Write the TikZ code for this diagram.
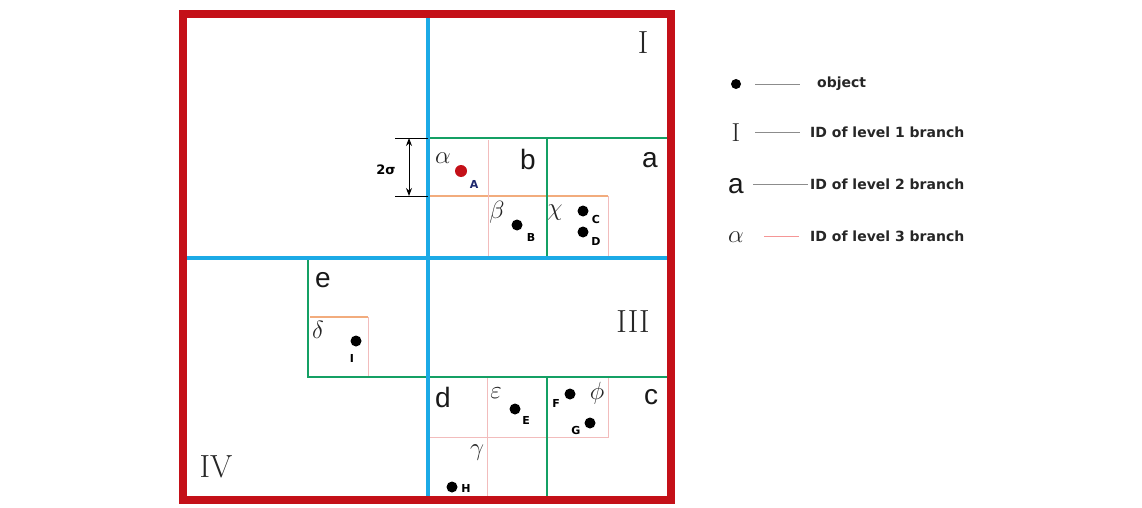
\documentclass[tikz,border=0pt]{standalone}
\usepackage{fontspec}
\newfontfamily\dvs{DejaVu Sans}
\newfontfamily\lsans{Liberation Sans}
\usetikzlibrary{arrows.meta}
\definecolor{qred}{RGB}{196,16,24}
\definecolor{qblue}{RGB}{28,170,230}
\definecolor{qgreen}{RGB}{20,160,100}
\definecolor{qorange}{RGB}{242,172,125}
\definecolor{qpink}{RGB}{242,188,188}
\definecolor{qnavy}{RGB}{30,40,110}
\begin{document}
\begin{tikzpicture}[x=1pt,y=-1pt,
 lvlzero/.style={draw=qred,line width=8pt},
 lvlone/.style={draw=qblue,line width=4.5pt},
 lvltwo/.style={draw=qgreen,line width=2.2pt},
 lvlthree/.style={draw=qorange,line width=1.3pt},
 lvlthreep/.style={draw=qpink,line width=1pt},
 roman/.style={inner sep=0pt,text=black!85,font=\fontsize{32}{36}\selectfont},
 sans/.style={inner sep=0pt,text=black!90,font=\lsans\fontsize{28}{32}\selectfont},
 greek/.style={inner sep=0pt,text=black!85,font=\fontsize{23}{27}\selectfont},
 obj/.style={circle,fill=black,inner sep=0pt,minimum size=11pt},
 objlab/.style={inner sep=0pt,font=\dvs\bfseries\fontsize{11}{13}\selectfont},
 legtext/.style={inner sep=0pt,anchor=west,text=black!85,font=\dvs\bfseries\fontsize{14}{16}\selectfont},
 legline/.style={draw=black!45,line width=0.6pt},
]
\useasboundingbox (0,0) rectangle (1142,508);
\fill[white] (0,0) rectangle (1142,508);

% level 3 boxes
\draw[lvlthree] (430,196) -- (608,196);
\draw[lvlthreep] (608,196) -- (608,256);
\draw[lvlthreep] (488,140) -- (488,256);
\draw[lvlthree] (310,317) -- (368,317);
\draw[lvlthreep] (368,317) -- (368,376);
\draw[lvlthreep] (487,378) -- (487,497);
\draw[lvlthreep] (430,437) -- (608,437) -- (608,378);

% level 2 boxes
\draw[lvltwo] (430,138) -- (667,138);
\draw[lvltwo] (547,138) -- (547,258);
\draw[lvltwo] (308,258) -- (308,377) -- (667,377);
\draw[lvltwo] (547,377) -- (547,498);

% level 1
\draw[lvlone] (428,14) -- (428,500);
\draw[lvlone] (183,258) -- (671,258);

% level 0
\draw[lvlzero] (183,14) rectangle (671,500);

% level 1 ids
\node[roman] (tI) at (643,43) {I};
\node[roman] (tIII) at (633,322) {III};
\node[roman] (tIV) at (216,467) {IV};

% level 2 ids
\node[sans] (tb) at (528,159) {b};
\node[sans] (ta) at (650,160) {a};
\node[sans] (te) at (323,280) {e};
\node[sans] (td) at (443,397) {d};
\node[sans] (tc) at (651,397) {c};

% level 3 ids
\node[greek] (galpha) at (443,158) {$\alpha$};
\node[greek] (gbeta) at (497,212) {$\beta$};
\node[greek] (gchi) at (555,213) {$\chi$};
\node[greek] (gdelta) at (318,330) {$\delta$};
\node[greek] (geps) at (496,393) {$\varepsilon$};
\node[greek] (gphi) at (597,393) {$\phi$};
\node[greek] (ggamma) at (477,453) {$\gamma$};

% objects
\node[obj,fill=qred,minimum size=12pt] (oA) at (461,171) {};
\node[obj] (oB) at (517,225) {};
\node[obj] (oC) at (583,211) {};
\node[obj] (oD) at (583,232) {};
\node[obj] (oI) at (356,341) {};
\node[obj] (oE) at (515,409) {};
\node[obj] (oF) at (570,394) {};
\node[obj] (oG) at (590,423) {};
\node[obj] (oH) at (452,487) {};
\node[objlab,text=qnavy] (lA) at (474,184) {A};
\node[objlab] (lB) at (531,237) {B};
\node[objlab] (lC) at (596,219) {C};
\node[objlab] (lD) at (596,241) {D};
\node[objlab] (lI) at (352,358) {I};
\node[objlab] (lE) at (526,420) {E};
\node[objlab] (lF) at (556,403) {F};
\node[objlab] (lG) at (576,430) {G};
\node[objlab] (lH) at (466,488) {H};

% 2 sigma
\coordinate (s1) at (409,138);
\coordinate (s2) at (409,196);
\draw[black,line width=0.7pt] (395,138) -- (428,138);
\draw[black,line width=0.7pt] (395,196) -- (428,196);
\draw[black,line width=1pt,{Stealth[length=8pt,width=6pt]}-{Stealth[length=8pt,width=6pt]}] (s1) -- (s2);
\node[inner sep=0pt,font=\dvs\bfseries\fontsize{13}{15}\selectfont] (sig) at (386,170) {2σ};

% legend
\node[obj,minimum size=10pt] (kdot) at (736,84) {};
\node[legtext] (kt1) at (817,84) {object};
\coordinate (k1a) at (755,84); \coordinate (k1b) at (800,84);
\draw[legline] (k1a) -- (k1b);

\node[inner sep=0pt,text=black!85,font=\fontsize{26}{30}\selectfont] (kI) at (736,133) {I};
\node[legtext] (kt2) at (810,132) {ID of level 1 branch};
\coordinate (k2a) at (755,132); \coordinate (k2b) at (800,132);
\draw[legline] (k2a) -- (k2b);

\node[sans] (ka) at (736,186) {a};
\node[legtext] (kt3) at (810,184) {ID of level 2 branch};
\coordinate (k3a) at (753,184); \coordinate (k3b) at (808,184);
\draw[legline] (k3a) -- (k3b);

\node[greek] (kalpha) at (736,237) {$\alpha$};
\node[legtext] (kt4) at (810,236) {ID of level 3 branch};
\coordinate (k4a) at (764,236); \coordinate (k4b) at (799,236);
\draw[draw=qpink!80!red,line width=0.8pt] (k4a) -- (k4b);
\end{tikzpicture}
\end{document}
